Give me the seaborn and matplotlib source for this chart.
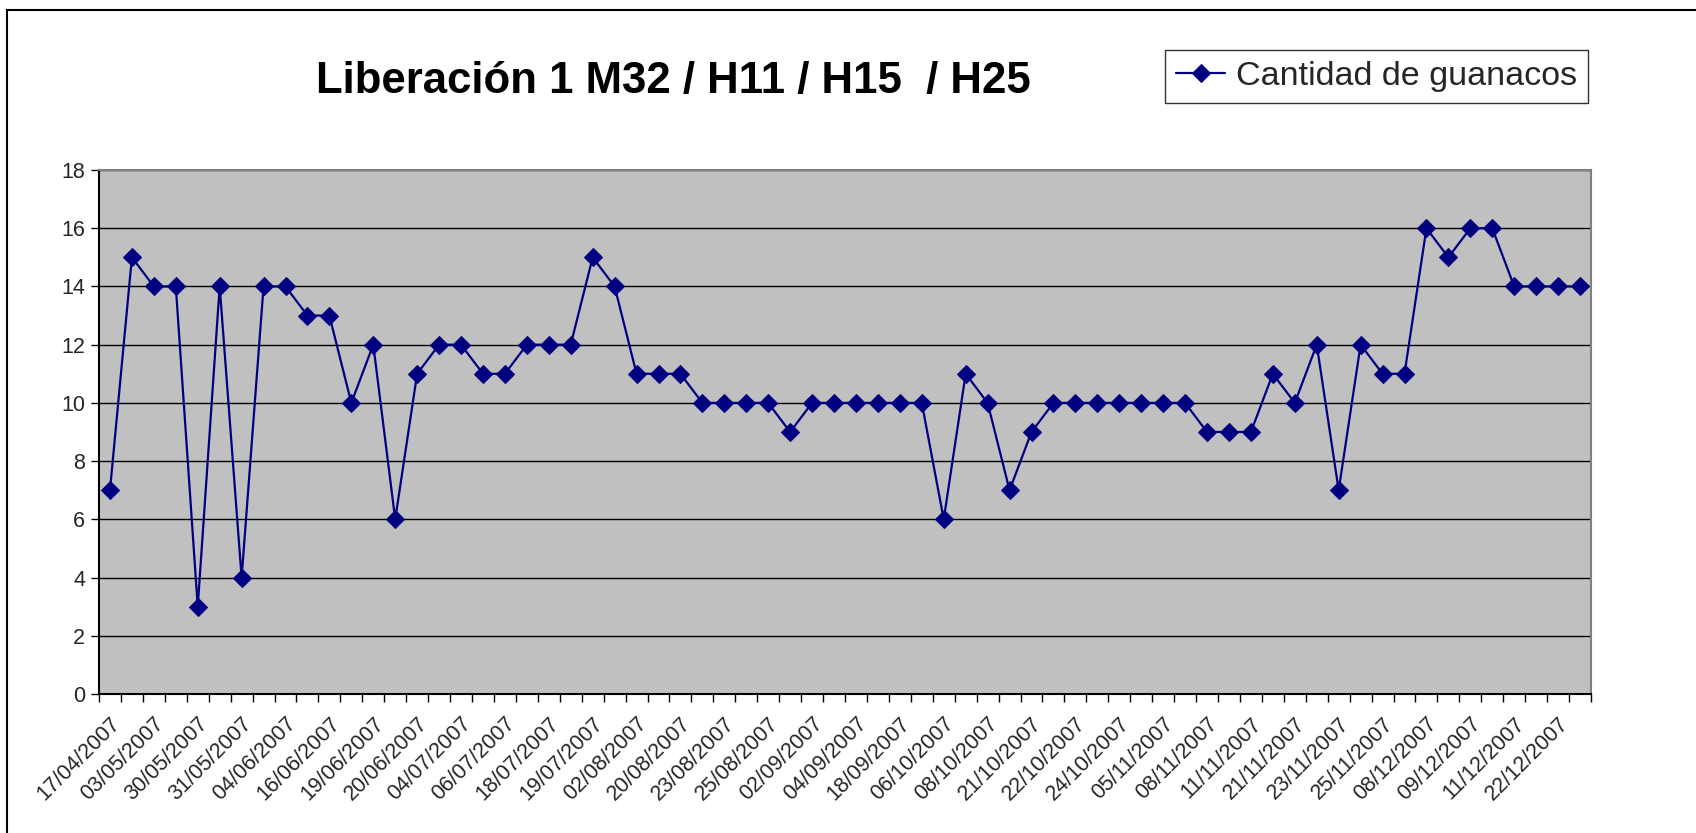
import matplotlib
matplotlib.use("Agg")
import matplotlib.pyplot as plt
import seaborn as sns
import pandas as pd
import numpy as np
from matplotlib.patches import Rectangle

# ---- data ----
values = [7, 15, 14, 14, 3, 14, 4, 14, 14, 13,
          13, 10, 12, 6, 11, 12, 12, 11, 11, 12,
          12, 12, 15, 14, 11, 11, 11, 10, 10, 10,
          10, 9, 10, 10, 10, 10, 10, 10, 6, 11,
          10, 7, 9, 10, 10, 10, 10, 10, 10, 10,
          9, 9, 9, 11, 10, 12, 7, 12, 11, 11,
          16, 15, 16, 16, 14, 14, 14, 14]
tick_labels = ["17/04/2007", "03/05/2007", "30/05/2007", "31/05/2007", "04/06/2007",
               "16/06/2007", "19/06/2007", "20/06/2007", "04/07/2007", "06/07/2007",
               "18/07/2007", "19/07/2007", "02/08/2007", "20/08/2007", "23/08/2007",
               "25/08/2007", "02/09/2007", "04/09/2007", "18/09/2007", "06/10/2007",
               "08/10/2007", "21/10/2007", "22/10/2007", "24/10/2007", "05/11/2007",
               "08/11/2007", "11/11/2007", "21/11/2007", "23/11/2007", "25/11/2007",
               "08/12/2007", "09/12/2007", "11/12/2007", "22/12/2007"]
series_name = "Cantidad de guanacos"
title = "Liberación 1 M32 / H11 / H15  / H25"
y_ticks = [0, 2, 4, 6, 8, 10, 12, 14, 16, 18]

df = pd.DataFrame({"idx": np.arange(len(values)), "val": values})

sns.set_theme(style="white")
plt.rcParams["font.family"] = ["Liberation Sans", "DejaVu Sans"]

W, H = 1696, 833
fig = plt.figure(figsize=(W / 100, H / 100), dpi=100)
ax = fig.add_axes([99 / W, 1 - 694 / H, (1591 - 99) / W, (694 - 170) / H])
ax.set_facecolor("#C0C0C0")

sns.lineplot(data=df, x="idx", y="val", ax=ax, color="#000080", linewidth=1.6,
             marker="D", markersize=9, markeredgecolor="#000080",
             label=series_name, legend=False)

n = len(values)
ax.set_xlim(-0.5, n - 0.5)
ax.set_ylim(0, 18)
ax.set_yticks(y_ticks)
ax.set_yticklabels([str(t) for t in y_ticks], fontsize=15.5)
ax.yaxis.grid(True, color="black", linewidth=1.0)
ax.xaxis.grid(False)
ax.set_axisbelow(True)

# category ticks between categories, labels every other category
ax.set_xticks(np.arange(-0.5, n, 1.0), minor=False)
ax.set_xticklabels([])
ax.set_xticks(np.arange(0, n, 2), minor=True)
ax.set_xticklabels(tick_labels, minor=True, rotation=45, ha="right",
                   rotation_mode="anchor", fontsize=15.5)
ax.tick_params(axis="x", which="major", direction="out", length=6, width=1, color="black",
               bottom=True)
ax.tick_params(axis="x", which="minor", length=0, pad=14, bottom=True)
ax.tick_params(axis="y", direction="out", length=6, width=1, color="black", left=True, pad=4)
ax.set_xlabel("")
ax.set_ylabel("")

for side in ["left", "bottom"]:
    ax.spines[side].set_color("black")
    ax.spines[side].set_linewidth(1.5)
for side in ["top", "right"]:
    ax.spines[side].set_color("#808080")
    ax.spines[side].set_linewidth(1.5)

fig.text(673 / W, 1 - 81 / H, title, ha="center", va="center",
         fontsize=31.5, fontweight="bold", color="black")

handles, labels = ax.get_legend_handles_labels()
leg = fig.legend(handles, labels, loc="upper right",
                 bbox_to_anchor=(1588 / W, 1 - 50 / H), borderaxespad=0,
                 fontsize=24.5, frameon=True, fancybox=False, edgecolor="black",
                 handlelength=1.45, handletextpad=0.3, borderpad=0.33)
leg.get_frame().set_linewidth(1.0)

fig.patches.append(Rectangle((7 / W, -0.5), 2.0, 0.5 + 1 - 10 / H, transform=fig.transFigure,
                             fill=False, edgecolor="black", linewidth=1.5))

fig.savefig("out.png", dpi=100, facecolor="white")
